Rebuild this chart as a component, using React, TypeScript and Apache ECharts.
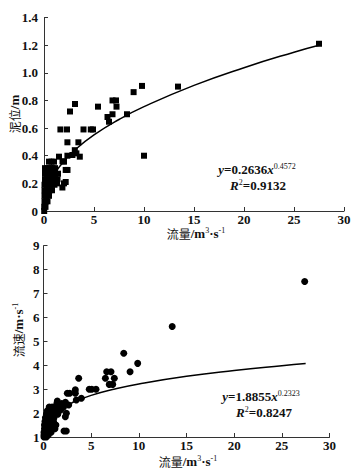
import React, { useEffect, useRef } from "react";
import * as echarts from "echarts";

// ---------- data ----------
const flowTicks = [0, 5, 10, 15, 20, 25, 30];
const mudLevelTicks = [0, 0.2, 0.4, 0.6, 0.8, 1.0, 1.2, 1.4];
const velocityTicks = [1, 2, 3, 4, 5, 6, 7, 8, 9];

// 流量 (x) vs 泥位 (y)
const mudLevelPoints: number[][] = [
  [27.5, 1.21], [13.4, 0.9], [10.0, 0.4], [9.8, 0.905], [8.96, 0.86], [8.3, 0.7],
  [6.85, 0.8], [7.2, 0.8], [7.25, 0.755], [6.85, 0.7], [6.35, 0.68], [6.5, 0.646],
  [5.4, 0.755], [4.68, 0.59], [4.9, 0.59], [3.95, 0.59], [3.1, 0.774], [2.6, 0.72],
  [2.3, 0.59], [1.64, 0.59], [2.34, 0.497], [3.44, 0.497], [3.58, 0.393], [3.08, 0.44],
  [3.24, 0.417], [1.5, 0.393], [2.34, 0.4], [2.84, 0.405], [2.0, 0.357], [1.85, 0.36],
  [2.17, 0.297], [2.35, 0.297], [2.17, 0.21], [2.0, 0.2], [1.84, 0.17],
  [0.5, 0.357], [0.75, 0.357], [1.0, 0.357],
  [0.1, 0.31], [0.35, 0.31], [0.6, 0.31], [0.85, 0.31], [1.1, 0.31],
  [0.1, 0.27], [0.35, 0.27], [0.6, 0.27], [0.85, 0.27], [1.1, 0.27], [1.4, 0.27],
  [0.1, 0.23], [0.35, 0.23], [0.6, 0.23], [0.85, 0.23], [1.1, 0.23], [1.35, 0.23],
  [0.05, 0.19], [0.3, 0.19], [0.55, 0.19], [0.8, 0.19], [1.05, 0.19], [1.3, 0.2],
  [0.05, 0.15], [0.3, 0.15], [0.55, 0.15], [0.8, 0.15],
  [0.05, 0.11], [0.25, 0.11], [0.5, 0.11],
  [0.05, 0.07], [0.2, 0.07], [0.35, 0.07],
  [0.02, 0.03], [0.15, 0.03], [0.02, 0.0],
];

// trend line points
const mudFitCurve: number[][] = [
  [0.5, 0.192], [1, 0.264], [2, 0.362], [3, 0.436], [5, 0.55], [7.5, 0.662],
  [10, 0.755], [15, 0.909], [20, 1.037], [25, 1.149], [27.5, 1.199],
];

// 流量 (x) vs 流速 (y)
const velocityPoints: number[][] = [
  [27.4, 7.5], [13.5, 5.62], [8.42, 4.5], [9.88, 4.08], [9.08, 3.73], [6.63, 3.73],
  [7.08, 3.73], [6.49, 3.46], [7.43, 3.46], [6.9, 3.2], [7.26, 3.2], [5.06, 3.0],
  [5.51, 3.0], [4.8, 3.0], [3.69, 3.46], [3.34, 2.97], [3.34, 2.83], [2.5, 2.83],
  [2.75, 2.83], [1.45, 2.5], [3.97, 2.62], [3.44, 2.55], [2.64, 2.34], [2.15, 1.25],
  [2.39, 1.25], [2.29, 1.85], [2.4, 1.99], [1.8, 2.13], [1.4, 2.4], [1.9, 2.4], [2.3, 2.45],
  [0.6, 2.25], [0.9, 2.25], [1.2, 2.25], [1.5, 2.25], [1.8, 2.25], [2.1, 2.25],
  [0.4, 2.1], [0.7, 2.1], [1.0, 2.1], [1.3, 2.1], [1.6, 2.1],
  [0.3, 1.95], [0.6, 1.95], [0.9, 1.95], [1.2, 1.95], [1.5, 1.95],
  [0.2, 1.8], [0.5, 1.8], [0.8, 1.8], [1.1, 1.8],
  [0.15, 1.65], [0.45, 1.65], [0.75, 1.65], [1.05, 1.65],
  [0.1, 1.5], [0.4, 1.5], [0.7, 1.5], [1.0, 1.5], [1.3, 1.5],
  [0.1, 1.35], [0.35, 1.35], [0.6, 1.35], [0.9, 1.35], [1.2, 1.35],
  [0.05, 1.2], [0.3, 1.2], [0.55, 1.2], [0.8, 1.2],
  [0.05, 1.08], [0.25, 1.08], [0.5, 1.08], [0.05, 1.0], [0.3, 1.0],
];

const velocityFitCurve: number[][] = [
  [0.5, 1.6], [1, 1.886], [2, 2.216], [3, 2.434], [5, 2.74], [7.5, 3.01],
  [10, 3.22], [15, 3.54], [20, 3.78], [25, 3.98], [27.5, 4.07],
];

const mudEq = { coef: "0.2636", exp: "0.4572", r2: "0.9132" };
const velEq = { coef: "1.8855", exp: "0.2323", r2: "0.8247" };

const SERIF = "'Liberation Serif', 'DejaVu Serif', serif";
const CJK = "'Noto Sans CJK SC', sans-serif";
const INK = "#111111";

function xAxisCfg(gridIndex: number) {
  return {
    type: "value" as const,
    gridIndex,
    min: flowTicks[0],
    max: flowTicks[flowTicks.length - 1],
    interval: 5,
    axisLine: { show: true, lineStyle: { color: "#333", width: 1 } },
    axisTick: { show: true, inside: true, length: 4, lineStyle: { color: "#333" } },
    axisLabel: { color: INK, fontFamily: SERIF, fontSize: 13, fontWeight: "bold" as const, margin: 2 },
    splitLine: { show: false },
  };
}

const richBase = {
  i: { fontStyle: "italic", fontFamily: SERIF, fontSize: 13, fontWeight: "bold", fill: INK },
  n: { fontFamily: SERIF, fontSize: 13, fontWeight: "bold", fill: INK },
  s: { fontFamily: SERIF, fontSize: 8, fill: INK, verticalAlign: "top" },
  c: { fontFamily: CJK, fontSize: 12, fill: INK },
};

function textEl(x: number, y: number, text: string, rotation = 0) {
  return {
    type: "text",
    x,
    y,
    rotation,
    style: {
      text,
      rich: richBase,
      align: "center",
      verticalAlign: "middle",
      fontFamily: SERIF,
      fontSize: 13,
      fill: INK,
    },
  };
}

export default function App() {
  const ref = useRef<HTMLDivElement>(null);
  useEffect(() => {
    if (!ref.current) return;
    const chart = echarts.init(ref.current, null, { renderer: "svg" });
    chart.setOption({
      animation: false,
      backgroundColor: "#ffffff",
      grid: [
        { left: 44, top: 17.5, width: 300, height: 193.5 },
        { left: 43.5, top: 245.7, width: 286, height: 191.3 },
      ],
      xAxis: [xAxisCfg(0), xAxisCfg(1)],
      yAxis: [
        {
          type: "value",
          gridIndex: 0,
          min: mudLevelTicks[0],
          max: mudLevelTicks[mudLevelTicks.length - 1],
          interval: 0.2,
          axisLine: { show: true, lineStyle: { color: "#333", width: 1 } },
          axisTick: { show: true, inside: true, length: 4, lineStyle: { color: "#333" } },
          axisLabel: {
            color: INK, fontFamily: SERIF, fontSize: 13, fontWeight: "bold", margin: 6,
            formatter: (v: number) => (v === 0 ? "0" : v.toFixed(1)),
          },
          splitLine: { show: false },
        },
        {
          type: "value",
          gridIndex: 1,
          min: velocityTicks[0],
          max: velocityTicks[velocityTicks.length - 1],
          interval: 1,
          axisLine: { show: true, lineStyle: { color: "#333", width: 1 } },
          axisTick: { show: true, inside: true, length: 4, lineStyle: { color: "#333" } },
          axisLabel: { color: INK, fontFamily: SERIF, fontSize: 13, fontWeight: "bold", margin: 4 },
          splitLine: { show: false },
        },
      ],
      series: [
        {
          type: "scatter", xAxisIndex: 0, yAxisIndex: 0, data: mudLevelPoints,
          symbol: "rect", symbolSize: 6, itemStyle: { color: "#000", opacity: 1 }, silent: true,
        },
        {
          type: "line", xAxisIndex: 0, yAxisIndex: 0, data: mudFitCurve, smooth: true,
          showSymbol: false, lineStyle: { color: "#000", width: 1.5 }, silent: true,
        },
        {
          type: "scatter", xAxisIndex: 1, yAxisIndex: 1, data: velocityPoints,
          symbol: "circle", symbolSize: 7, itemStyle: { color: "#000", opacity: 1 }, silent: true,
        },
        {
          type: "line", xAxisIndex: 1, yAxisIndex: 1, data: velocityFitCurve, smooth: true,
          showSymbol: false, lineStyle: { color: "#000", width: 1.5 }, silent: true,
        },
      ],
      graphic: [
        textEl(14, 114, "{c|泥位}{n|/m}", Math.PI / 2),
        textEl(18, 330, "{c|流速}{n|/m·s}{s|-1}", Math.PI / 2),
        textEl(196, 233, "{c|流量}{n|/m}{s|3}{n|·s}{s|-1}"),
        textEl(188, 461, "{c|流量}{n|/m}{s|3}{n|·s}{s|-1}"),
        textEl(257, 169, `{i|y}{n|=${mudEq.coef}}{i|x}{s|${mudEq.exp}}`),
        textEl(258, 185, `{i|R}{s|2}{n|=${mudEq.r2}}`),
        textEl(261, 396, `{i|y}{n|=${velEq.coef}}{i|x}{s|${velEq.exp}}`),
        textEl(264, 412, `{i|R}{s|2}{n|=${velEq.r2}}`),
      ],
    });
    return () => chart.dispose();
  }, []);
  return (
    <div
      ref={ref}
      style={{ position: "fixed", left: 0, top: 0, width: 356, height: 474 }}
    />
  );
}
